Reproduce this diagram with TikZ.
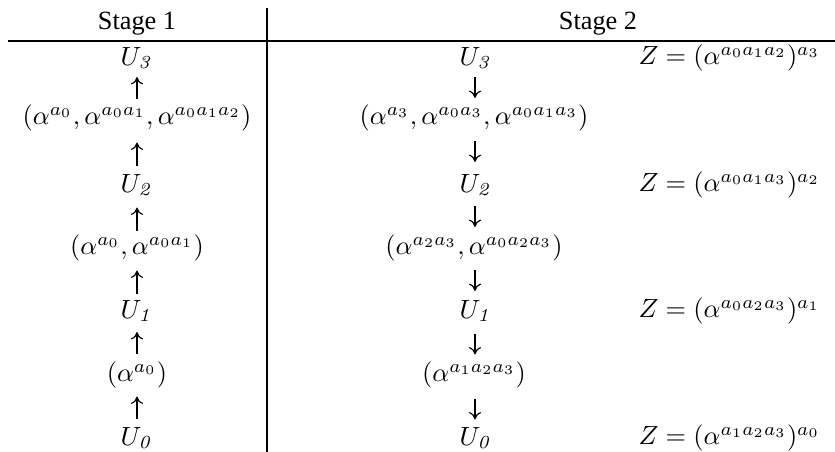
\documentclass[tikz,border=0pt]{standalone}
\usepackage[no-math]{fontspec}
\newfontfamily\stagefont{Liberation Serif}
\usetikzlibrary{arrows.meta,calc}
\begin{document}
\begin{tikzpicture}[x=0.38pt,y=-0.38pt,
  lbl/.style={inner sep=0pt, font=\fontsize{10.2}{12}\selectfont},
  hd/.style={inner sep=0pt, font=\stagefont\fontsize{10}{12}\selectfont},
  eq/.style={inner sep=0pt, anchor=west, font=\fontsize{10.2}{12}\selectfont},
  arr/.style={-{To[length=2.8pt,width=4.6pt]}, line width=0.45pt},
  rule/.style={line width=0.55pt}]
\useasboundingbox (0,0) rectangle (835,452);
% headers
\node[hd] (h1) at (137,24) {Stage 1};
\node[hd] (h2) at (598,24) {Stage 2};
\coordinate (rl) at (8,41);
\coordinate (rr) at (835,41);
\coordinate (vt) at (267,8);
\coordinate (vb) at (267,452);
\draw[rule] (rl) -- (rr);
\draw[rule] (vt) -- (vb);
% stage 1
\node[lbl] (a3) at (137,58) {$U_{\mathit{3}}$};
\node[lbl] (at3) at (137,118) {$(\alpha^{a_0},\alpha^{a_0a_1},\alpha^{a_0a_1a_2})$};
\node[lbl] (a2) at (137,185) {$U_{\mathit{2}}$};
\node[lbl] (at2) at (137,248) {$(\alpha^{a_0},\alpha^{a_0a_1})$};
\node[lbl] (a1) at (137,311) {$U_{\mathit{1}}$};
\node[lbl] (at1) at (137,375) {$(\alpha^{a_0})$};
\node[lbl] (a0) at (137,438) {$U_{\mathit{0}}$};
\draw[arr] ($(at3)!0.5!(a3)+(0,11)$) -- ($(at3)!0.5!(a3)+(0,-11)$);
\draw[arr] ($(a2)!0.5!(at3)+(0,14)$) -- ($(a2)!0.5!(at3)+(0,-9)$);
\draw[arr] ($(at2)!0.5!(a2)+(0,14)$) -- ($(at2)!0.5!(a2)+(0,-9)$);
\draw[arr] ($(a1)!0.5!(at2)+(0,14)$) -- ($(a1)!0.5!(at2)+(0,-9)$);
\draw[arr] ($(at1)!0.5!(a1)+(0,11)$) -- ($(at1)!0.5!(a1)+(0,-11)$);
\draw[arr] ($(a0)!0.5!(at1)+(0,12)$) -- ($(a0)!0.5!(at1)+(0,-10)$);
% stage 2
\node[lbl] (b3) at (476,58) {$U_{\mathit{3}}$};
\node[lbl] (bt3) at (474,118) {$(\alpha^{a_3},\alpha^{a_0a_3},\alpha^{a_0a_1a_3})$};
\node[lbl] (b2) at (476,185) {$U_{\mathit{2}}$};
\node[lbl] (bt2) at (474,248) {$(\alpha^{a_2a_3},\alpha^{a_0a_2a_3})$};
\node[lbl] (b1) at (476,311) {$U_{\mathit{1}}$};
\node[lbl] (bt1) at (474,375) {$(\alpha^{a_1a_2a_3})$};
\node[lbl] (b0) at (476,438) {$U_{\mathit{0}}$};
\draw[arr] ($(b3)!0.5!(bt3)+(0,-11)$) -- ($(b3)!0.5!(bt3)+(0,10)$);
\draw[arr] ($(bt3)!0.5!(b2)+(0,-10.5)$) -- ($(bt3)!0.5!(b2)+(0,10.5)$);
\draw[arr] ($(b2)!0.5!(bt2)+(0,-10.5)$) -- ($(b2)!0.5!(bt2)+(0,10.5)$);
\draw[arr] ($(bt2)!0.5!(b1)+(0,-9.5)$) -- ($(bt2)!0.5!(b1)+(0,11.5)$);
\draw[arr] ($(b1)!0.5!(bt1)+(0,-9.5)$) -- ($(b1)!0.5!(bt1)+(0,11.5)$);
\draw[arr] ($(bt1)!0.5!(b0)+(0,-8)$) -- ($(bt1)!0.5!(b0)+(0,13)$);
% Z values
\node[eq] (z3) at (638,58) {$Z=(\alpha^{a_0a_1a_2})^{a_3}$};
\node[eq] (z2) at (638,185) {$Z=(\alpha^{a_0a_1a_3})^{a_2}$};
\node[eq] (z1) at (638,311) {$Z=(\alpha^{a_0a_2a_3})^{a_1}$};
\node[eq] (z0) at (638,438) {$Z=(\alpha^{a_1a_2a_3})^{a_0}$};
\end{tikzpicture}
\end{document}
